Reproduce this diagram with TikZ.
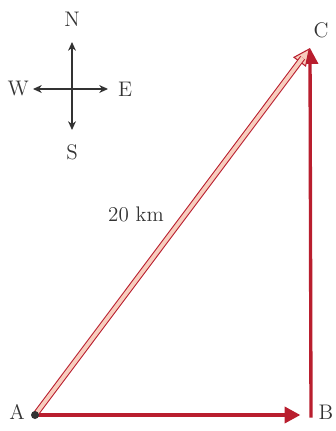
\documentclass[tikz,border=0pt]{standalone}
\usetikzlibrary{arrows.meta,positioning,calc}
\definecolor{vecred}{HTML}{B91E2E}
\definecolor{vecpink}{HTML}{F8CDBE}
\definecolor{ink}{HTML}{333333}
\begin{document}
\begin{tikzpicture}[x=0.02cm,y=-0.02cm,font=\fontsize{12}{14}\selectfont,
  compass/.style={-{Stealth[length=5pt,width=4.5pt]}, line width=0.6pt, draw=ink},
  leg/.style={draw=vecred, line width=2.4pt, -{Triangle[length=9pt,width=9pt]}},
  lbl/.style={text=ink, inner sep=1pt}]
  \useasboundingbox (0,0) rectangle (335,431);
  % compass
  \coordinate (O) at (72,89);
  \coordinate (n) at (72,42);
  \coordinate (s) at (72,130);
  \coordinate (w) at (33,89);
  \coordinate (e) at (108,89);
  \draw[compass] (O) -- (n);
  \draw[compass] (O) -- (s);
  \draw[compass] (O) -- (w);
  \draw[compass] (O) -- (e);
  \node[lbl, above=0.26cm of n] (N) {N};
  \node[lbl, below=0.26cm of s] (S) {S};
  \node[lbl, left=0.04cm of w]  (W) {W};
  \node[lbl, right=0.16cm of e] (E) {E};
  % triangle of displacements
  \coordinate (A) at (35,415);
  \coordinate (B) at (311,415);
  \coordinate (C) at (310,48);
  \node[lbl] (Alab) at (17,412) {A};
  \node[lbl] (Blab) at (326,412) {B};
  \node[lbl] (Clab) at (321,30)  {C};
  \draw[leg, shorten >=6pt] (A) -- (B);
  \draw[leg, line width=1.9pt] ([yshift=-1.5]B) -- (C);
  \draw[draw=vecred, line width=0.6pt,
        -{Triangle[length=10pt,width=9pt,fill=vecpink]}] ($(A)!0.93!(C)$) -- (C);
  \draw[draw=vecred, line width=0.6pt, double=vecpink, double distance=2.2pt,
        shorten >=7pt] (A) -- (C);
  \fill[ink] (A) circle (4);
  \node[lbl] (dist) at (136,214) {20 km};
\end{tikzpicture}
\end{document}
